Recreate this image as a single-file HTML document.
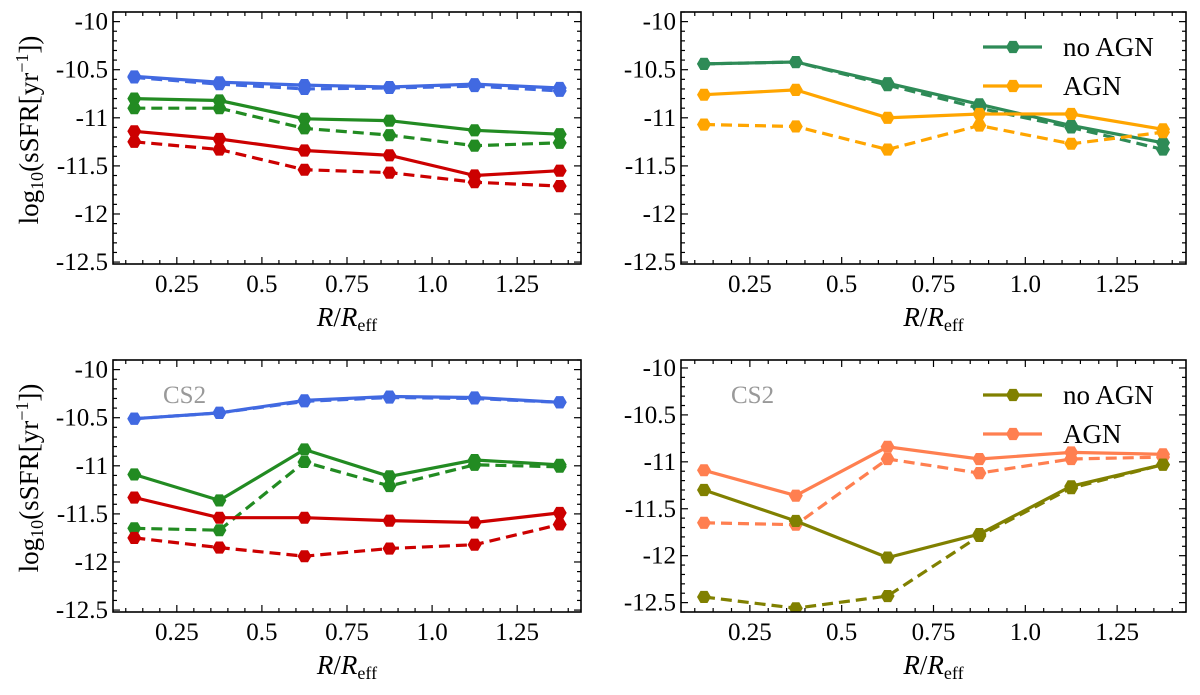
<!DOCTYPE html>
<html><head><meta charset="utf-8"><style>
body{margin:0;background:#fff;}
text{font-family:"Liberation Serif","DejaVu Serif",serif !important;}
</style></head><body>
<svg id="fig" width="1200" height="690" viewBox="0 0 1200 690" xmlns="http://www.w3.org/2000/svg" font-family="Liberation Serif, DejaVu Serif, serif"></svg>
<script>
// ---- data ----
const radii = [0.125, 0.375, 0.625, 0.875, 1.125, 1.375];
const xTicks = [0.25, 0.5, 0.75, 1.0, 1.25];
const xTickLabels = ["0.25", "0.5", "0.75", "1.0", "1.25"];
const yTicks = [-10, -10.5, -11, -11.5, -12, -12.5];
const yTickLabels = ["-10", "-10.5", "-11", "-11.5", "-12", "-12.5"];

const tlBlueSolid  = [-10.57, -10.63, -10.66, -10.68, -10.65, -10.69];
const tlBlueDash   = [-10.58, -10.65, -10.70, -10.69, -10.67, -10.72];
const tlGreenSolid = [-10.80, -10.82, -11.01, -11.03, -11.13, -11.17];
const tlGreenDash  = [-10.90, -10.90, -11.11, -11.18, -11.29, -11.26];
const tlRedSolid   = [-11.14, -11.22, -11.34, -11.39, -11.60, -11.55];
const tlRedDash    = [-11.25, -11.33, -11.54, -11.57, -11.67, -11.71];

const trNoAgnSolid = [-10.44, -10.42, -10.64, -10.86, -11.08, -11.26];
const trNoAgnDash  = [-10.44, -10.42, -10.66, -10.90, -11.10, -11.33];
const trAgnSolid   = [-10.76, -10.71, -11.00, -10.96, -10.96, -11.12];
const trAgnDash    = [-11.07, -11.09, -11.33, -11.08, -11.27, -11.15];

const blBlueSolid  = [-10.51, -10.45, -10.32, -10.28, -10.29, -10.34];
const blBlueDash   = [-10.51, -10.45, -10.33, -10.29, -10.30, -10.34];
const blGreenSolid = [-11.09, -11.36, -10.83, -11.11, -10.94, -10.99];
const blGreenDash  = [-11.65, -11.67, -10.96, -11.21, -10.99, -11.01];
const blRedSolid   = [-11.33, -11.54, -11.54, -11.57, -11.59, -11.49];
const blRedDash    = [-11.75, -11.85, -11.94, -11.86, -11.82, -11.61];

const brNoAgnSolid = [-11.30, -11.63, -12.02, -11.77, -11.26, -11.03];
const brNoAgnDash  = [-12.44, -12.56, -12.43, -11.79, -11.28, -11.03];
const brAgnSolid   = [-11.09, -11.36, -10.84, -10.97, -10.90, -10.92];
const brAgnDash    = [-11.65, -11.67, -10.97, -11.12, -10.97, -10.95];

const NS = "http://www.w3.org/2000/svg";
const svg = document.getElementById("fig");
const FF = "Liberation Serif, DejaVu Serif, serif";
function mk(tag, attrs, parent){
  const e = document.createElementNS(NS, tag);
  for (const k in attrs) e.setAttribute(k, attrs[k]);
  if (tag==="text") e.setAttribute("font-family", FF);
  (parent||svg).appendChild(e);
  return e;
}
const XMIN=0.0625, XMAX=1.4375;
function hexPts(cx, cy, r){
  let p=[];
  for(let i=0;i<6;i++){const a=Math.PI/3*i; p.push((cx+r*Math.cos(a)).toFixed(1)+","+(cy+r*Math.sin(a)).toFixed(1));}
  return p.join(" ");
}
function panel(name, box, ylim, showYLabel, series, cs2, legend){
  const g = mk("g", {});
  
  
  const sx = v => box.l + (v-XMIN)/(XMAX-XMIN)*(box.r-box.l);
  const sy = v => box.t + (ylim[1]-v)/(ylim[1]-ylim[0])*(box.b-box.t);
  const cid = name+"-clip";
  const defs = mk("defs", {}, g);
  const cp = mk("clipPath", {id:cid}, defs);
  mk("rect", {x:box.l, y:box.t, width:box.r-box.l, height:box.b-box.t}, cp);
  const plot = mk("g", {"clip-path":"url(#"+cid+")"}, g);
  series.forEach(s=>{
    const sg = mk("g", {}, plot);
    
    
    const pts = radii.map((x,i)=>sx(x).toFixed(1)+","+sy(s.vals[i]).toFixed(1)).join(" ");
    const a = {points:pts, fill:"none", stroke:s.color, "stroke-width":3.2, "stroke-linejoin":"round"};
    if (s.dash) a["stroke-dasharray"]="11,6";
    mk("polyline", a, sg);
    radii.forEach((x,i)=>{
      const m = mk("polygon", {points:hexPts(sx(x), sy(s.vals[i]), 7), fill:s.color}, sg);
      
      
    });
  });
  mk("rect", {x:box.l, y:box.t, width:box.r-box.l, height:box.b-box.t, fill:"none", stroke:"#000", "stroke-width":1.6}, g);
  for (let k=1;k<=28;k++){
    const v=k*0.05; if (v<XMIN||v>XMAX) continue;
    const major = Math.abs(v/0.25 - Math.round(v/0.25))<1e-6;
    const L = major?7:4, X=sx(v);
    mk("line",{x1:X,x2:X,y1:box.b,y2:box.b-L,stroke:"#000","stroke-width":1.2},g);
    mk("line",{x1:X,x2:X,y1:box.t,y2:box.t+L,stroke:"#000","stroke-width":1.2},g);
  }
  xTicks.forEach((v,i)=>{
    const t = mk("text",{x:sx(v), y:box.b+28, "text-anchor":"middle","font-size":25},g);
    t.textContent = xTickLabels[i];
    
    
  });
  for (let k=99;k<=126;k++){
    const v=-k/10; if (v<ylim[0]||v>ylim[1]) continue;
    const major = k%5===0;
    const L = major?7:4, Y=sy(v);
    mk("line",{x1:box.l,x2:box.l+L,y1:Y,y2:Y,stroke:"#000","stroke-width":1.2},g);
    mk("line",{x1:box.r,x2:box.r-L,y1:Y,y2:Y,stroke:"#000","stroke-width":1.2},g);
  }
  yTicks.forEach((v,i)=>{
    const t = mk("text",{x:box.l-5, y:sy(v)+8, "text-anchor":"end","font-size":25},g);
    t.textContent = yTickLabels[i];
    
    
  });
  const xl = mk("text",{x:(box.l+box.r)/2, y:box.b+62, "text-anchor":"middle","font-size":27},g);
  xl.innerHTML = '<tspan font-style="italic">R</tspan>/<tspan font-style="italic">R</tspan><tspan font-size="18" dy="5">eff</tspan>';
  
  
  if (showYLabel){
    const cy=(box.t+box.b)/2-8;
    const yl = mk("text",{x:0,y:0,"text-anchor":"middle","font-size":27,transform:"translate(38,"+cy+") rotate(-90)"},g);
    yl.innerHTML = 'log<tspan font-size="18" dy="5">10</tspan><tspan dy="-5">(sSFR[yr</tspan><tspan font-size="18" dy="-10">−1</tspan><tspan dy="10">])</tspan>';
    
    
  }
  if (cs2){
    const c = mk("text",{x:box.l+50, y:box.t+43, "font-size":25, fill:"#999"},g);
    c.textContent = "CS2";
    
    
  }
  if (legend){
    legend.forEach((e,i)=>{
      const lg = mk("g",{},g);
      
      
      const y = box.t + 35 + i*39;
      mk("line",{x1:box.r-203,x2:box.r-144,y1:y,y2:y,stroke:e.color,"stroke-width":3.2},lg);
      mk("polygon",{points:hexPts(box.r-173,y,7),fill:e.color},lg);
      const t = mk("text",{x:box.r-123,y:y+9,"font-size":27},lg);
      t.textContent = e.label;
    });
  }
}
const B="#4169e1", G="#228b22", R="#cc0000";
panel("panel-top-left",{l:113,r:581,t:12,b:264},[-12.52,-9.9],true,[
  {name:"blue-solid",vals:tlBlueSolid,color:B},{name:"blue-dashed",vals:tlBlueDash,color:B,dash:1},
  {name:"green-solid",vals:tlGreenSolid,color:G},{name:"green-dashed",vals:tlGreenDash,color:G,dash:1},
  {name:"red-solid",vals:tlRedSolid,color:R},{name:"red-dashed",vals:tlRedDash,color:R,dash:1}],false,null);
const SG="#2e8b57", OR="#ffa500";
panel("panel-top-right",{l:681,r:1186,t:12,b:264},[-12.52,-9.9],false,[
  {name:"no-agn-dashed",vals:trNoAgnDash,color:SG,dash:1},{name:"no-agn-solid",vals:trNoAgnSolid,color:SG},
  {name:"agn-solid",vals:trAgnSolid,color:OR},{name:"agn-dashed",vals:trAgnDash,color:OR,dash:1}],false,
  [{label:"no AGN",color:SG},{label:"AGN",color:OR}]);
panel("panel-bottom-left",{l:113,r:581,t:360,b:612},[-12.52,-9.9],true,[
  {name:"blue-solid",vals:blBlueSolid,color:B},{name:"blue-dashed",vals:blBlueDash,color:B,dash:1},
  {name:"green-solid",vals:blGreenSolid,color:G},{name:"green-dashed",vals:blGreenDash,color:G,dash:1},
  {name:"red-solid",vals:blRedSolid,color:R},{name:"red-dashed",vals:blRedDash,color:R,dash:1}],true,null);
const OL="#808000", CO="#ff7f50";
panel("panel-bottom-right",{l:681,r:1186,t:360,b:612},[-12.6,-9.915],false,[
  {name:"agn-dashed",vals:brAgnDash,color:CO,dash:1},{name:"agn-solid",vals:brAgnSolid,color:CO},
  {name:"no-agn-dashed",vals:brNoAgnDash,color:OL,dash:1},{name:"no-agn-solid",vals:brNoAgnSolid,color:OL}],true,
  [{label:"no AGN",color:OL},{label:"AGN",color:CO}]);
</script>
</body></html>
